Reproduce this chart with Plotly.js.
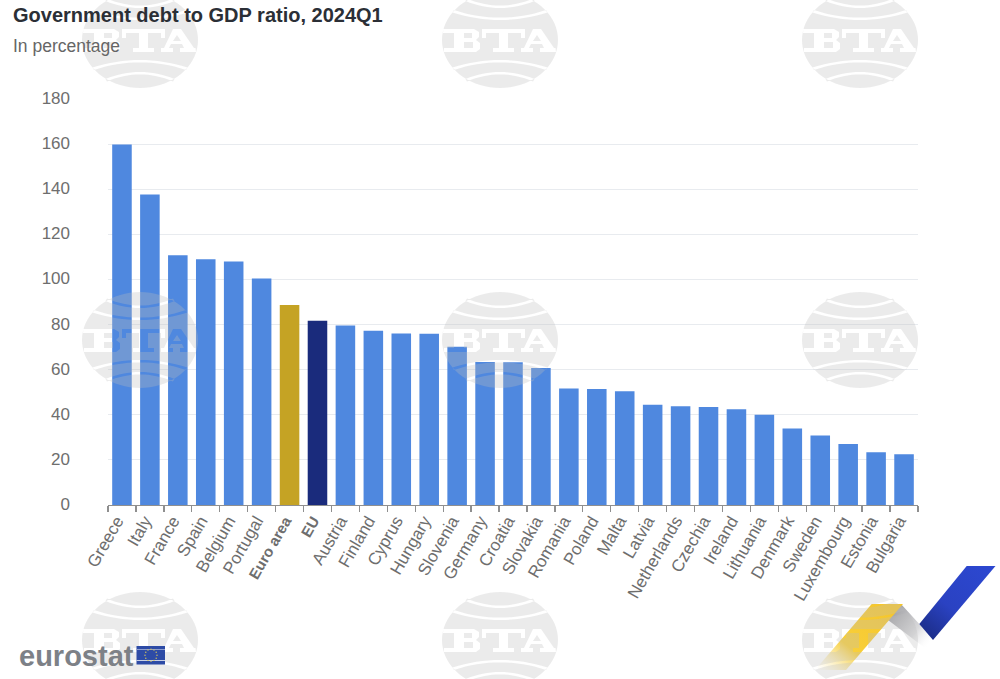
<!DOCTYPE html>
<html><head><meta charset="utf-8">
<script src="https://cdn.plot.ly/plotly-3.0.1.min.js"></script>
<style>html,body{margin:0;padding:0;background:#fff}#c{width:1000px;height:679px}</style>
</head><body><div id="c"></div>
<script>
const categories=["Greece","Italy","France","Spain","Belgium","Portugal","Euro area","EU","Austria","Finland","Cyprus","Hungary","Slovenia","Germany","Croatia","Slovakia","Romania","Poland","Malta","Latvia","Netherlands","Czechia","Ireland","Lithuania","Denmark","Sweden","Luxembourg","Estonia","Bulgaria"];
const values=[159.8,137.7,110.7,108.9,108.0,100.4,88.7,81.7,79.6,77.2,76.0,75.9,70.2,63.4,63.3,60.7,51.6,51.4,50.4,44.4,43.8,43.4,42.4,40.0,33.9,30.8,27.0,23.4,22.5];
const highlightColors={"Euro area":"#c5a324","EU":"#1a2b7c"};
const barColor="#4f88df";
const yTicks=[0,20,40,60,80,100,120,140,160,180];
const titleText="Government debt to GDP ratio, 2024Q1";
const subtitleText="In percentage";
const watermarkCenters=[[140,40],[500,40],[860,40],[140,340],[500,340],[860,340],[140,640],[500,640],[860,640]];

const L=108,R=918,T=99,B=505;
const px=x=>(x-L)/(R-L), py=y=>(B-y)/(B-T);
const pt=(x,y)=>px(x).toFixed(5)+","+py(y).toFixed(5);
const poly=(cx,cy,a)=>"M"+a.map(p=>pt(cx+p[0],cy+p[1])).join("L")+"Z";

function watermark(cx,cy){
  const rx=58,ry=48,n=72;let d="M";
  for(let i=0;i<n;i++){const t=i/n*2*Math.PI;d+=(i?"L":"")+pt(cx+rx*Math.cos(t),cy+ry*Math.sin(t));}
  d+="Z";
  const B1=[[-56.5,-11],[-26,-11],[-21,-8],[-21,-3],[-24,0],[-20,3],[-20,9],[-24,12],[-56,12],[-56,8],[-46,8],[-46,-7],[-57,-7]];
  const Bc1=[[-36,-7],[-28,-7],[-28,-2],[-36,-2]], Bc2=[[-36,2],[-27,2],[-27,8],[-36,8]];
  const T1=[[-18,-11],[25,-11],[25,-2],[21,-2],[21,-7],[8,-7],[8,8],[14,8],[14,12],[-7,12],[-7,8],[-1,8],[-1,-7],[-14,-7],[-14,-2],[-18,-2]];
  const A1=[[33,-11],[41,-11],[54,8],[55.5,8],[56,12],[40,12],[40,8],[44,8],[42,4],[31,4],[29,8],[33,8],[33,12],[21,12],[21,8],[24,8]];
  const Ac=[[37,-5],[41,1],[33,1]];
  [B1,Bc1,Bc2,T1,A1,Ac].forEach(a=>d+=poly(cx,cy,a));
  // curved white bands above and below the lettering
  [[47.5,27.5,-20,2.4],[34.5,39,-32,2.4]].forEach(([x,y,c,t])=>{
    [-1,1].forEach(s=>{
      const ya=s*y, tt=s*t, sag=Math.abs(y-Math.abs(c));
      const pts=[];
      for(let i=0;i<=16;i++){const u=-1+i/8;pts.push([x*u,(ya-s*sag)+s*sag*u*u]);}
      const back=[];
      for(let i=16;i>=0;i--){const u=-1+i/8;back.push([(x-1.5)*u,(ya+tt-s*sag)+s*sag*u*u]);}
      d+=poly(cx,cy,pts.concat(back));
    });
  });
  return {type:"path",xref:"paper",yref:"paper",path:d,fillcolor:"rgba(190,190,190,0.3)",line:{width:0},layer:"above",fillrule:"evenodd"};
}
const shapes=watermarkCenters.map(c=>watermark(c[0],c[1]));

// Eurostat flag
const rect=(x0,y0,x1,y1,col)=>({type:"rect",xref:"paper",yref:"paper",x0:px(x0),y0:py(y0),x1:px(x1),y1:py(y1),fillcolor:col,line:{width:0},layer:"above"});
shapes.push(rect(136.5,646,165,664.5,"#2d4ba6"));
shapes.push(rect(136.5,649,165,650,"#8f9fd0"));
shapes.push(rect(136.5,660,165,661,"#c9d0e6"));
for(let i=0;i<12;i++){const t=i/12*2*Math.PI,x=151+6*Math.cos(t),y=655.2+6*Math.sin(t);
  shapes.push({type:"circle",xref:"paper",yref:"paper",x0:px(x-.7),x1:px(x+.7),y0:py(y-.7),y1:py(y+.7),fillcolor:"#d9c75a",line:{width:0},layer:"above"});}

const logoSvg=`<svg xmlns="http://www.w3.org/2000/svg" width="200" height="125" viewBox="800 555 200 125">
<defs>
<linearGradient id="g" gradientUnits="userSpaceOnUse" x1="885" y1="604" x2="825" y2="676"><stop offset="0" stop-color="#f5c62c"/><stop offset=".6" stop-color="#f8cf3a"/><stop offset="1" stop-color="#f8e5a0" stop-opacity="0"/></linearGradient>
<linearGradient id="s" gradientUnits="userSpaceOnUse" x1="895" y1="612" x2="932" y2="642"><stop offset="0" stop-color="#a6a6aa"/><stop offset=".6" stop-color="#dcdcde"/><stop offset="1" stop-color="#fff" stop-opacity="0"/></linearGradient>
<linearGradient id="b" gradientUnits="userSpaceOnUse" x1="980" y1="566" x2="926" y2="632"><stop offset="0" stop-color="#2c47cf"/><stop offset=".6" stop-color="#2a42c2"/><stop offset="1" stop-color="#1d2f8d"/></linearGradient>
</defs>
<path d="M901 604L888 620L925 648L945 640L919.3 624Z" fill="url(#s)"/>
<path d="M871.7 604H903L846 670H815Z" fill="url(#g)"/>
<path d="M966.7 566H995.5L933 640L919.3 624Z" fill="url(#b)"/>
</svg>`;
const images=[{source:"data:image/svg+xml;base64,"+btoa(logoSvg),xref:"paper",yref:"paper",x:px(800),y:py(555),sizex:200/(R-L),sizey:125/(B-T),xanchor:"left",yanchor:"top",sizing:"stretch",layer:"above"}];

const trace={type:"bar",x:categories,y:values,marker:{color:categories.map(c=>highlightColors[c]||barColor),line:{width:0}},hoverinfo:"x+y"};
const font="'Liberation Sans',Arial,sans-serif";
const layout={
  width:1000,height:679,autosize:false,
  margin:{l:L,r:1000-R,t:T,b:679-B,pad:0},
  paper_bgcolor:"#fff",plot_bgcolor:"#fff",bargap:0.3,showlegend:false,
  font:{family:font,color:"#6e6e6e",size:17},
  title:{text:"<b>"+titleText+"</b>",x:0.013,xref:"container",xanchor:"left",y:0.978,yref:"container",yanchor:"middle",font:{family:font,size:20,color:"#2b2f36"}},
  xaxis:{type:"category",categoryorder:"array",categoryarray:categories,tickmode:"array",tickvals:categories,
    ticktext:categories.map(c=>highlightColors[c]?"<span style='font-size:15px'><b>"+c+"</b></span>":c),tickangle:-60,tickson:"boundaries",ticks:"outside",ticklen:6,tickwidth:1.3,tickcolor:"#8f8f8f",
    showline:true,linecolor:"#8f8f8f",linewidth:1.3,showgrid:false,zeroline:false,tickfont:{size:17,color:"#6e6e6e",family:font},ticklabelshift:-5,ticklabelstandoff:-2,automargin:false},
  yaxis:{range:[0,180],tickmode:"array",tickvals:yTicks,ticks:"",showline:false,zeroline:false,gridcolor:"#e8ebef",gridwidth:1,ticklabelstandoff:37,ticklabelshift:-1,tickfont:{size:17,color:"#6e6e6e",family:font},automargin:false},
  shapes,images,
  annotations:[
    {text:subtitleText,xref:"paper",yref:"paper",x:px(11),y:py(46),xanchor:"left",yanchor:"middle",showarrow:false,font:{family:font,size:17.5,color:"#666"}},
    {text:"<b>eurostat</b>",xref:"paper",yref:"paper",x:px(17),y:py(656),xanchor:"left",yanchor:"middle",showarrow:false,font:{family:font,size:29,color:"#7d8187"}}
  ]
};
Plotly.newPlot("c",[trace],layout,{displayModeBar:false,staticPlot:true});
</script></body></html>
